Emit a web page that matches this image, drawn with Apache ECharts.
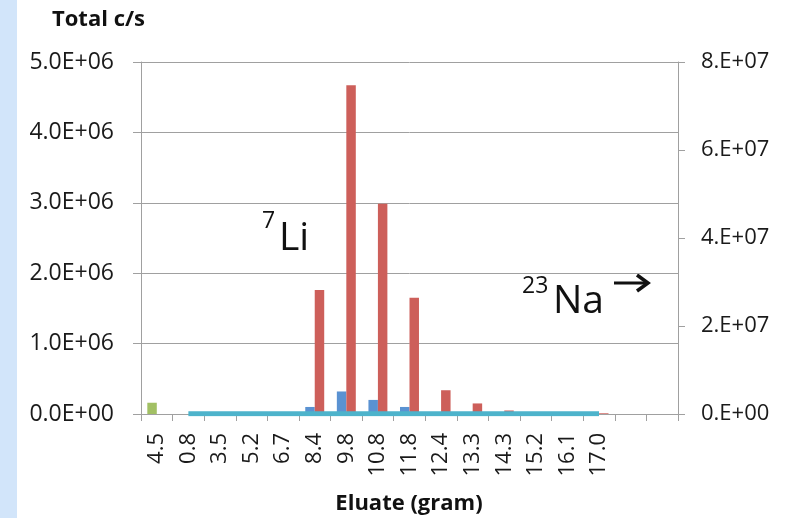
<!DOCTYPE html>
<html>
<head>
<meta charset="utf-8">
<script src="https://cdn.jsdelivr.net/npm/echarts@6/dist/echarts.min.js"></script>
<style>
  html, body { margin: 0; padding: 0; background: #fff; }
  #chart { width: 785px; height: 518px; }
</style>
</head>
<body>
<div id="chart"></div>
<script>
// eluate fractions (gram), two empty slots at the end like the original sheet
const categories = ['4.5', '0.8', '3.5', '5.2', '6.7', '8.4', '9.8', '10.8', '11.8', '12.4', '13.3', '14.3', '15.2', '16.1', '17.0', '', '']

// left axis (Total c/s)
const greenVals = [160000, null, null, null, null, null, null, null, null, null, null, null, null, null, null, null, null]
const blueVals = [null, 0, 0, 0, 5000, 100000, 320000, 200000, 100000, 0, 0, 0, 0, 0, 0, null, null]
// right axis (23Na)
const redVals = [null, 0, 0, 0, 160000, 28200000, 74700000, 47800000, 26400000, 5400000, 2400000, 800000, 0, 0, 160000, null, null]
const cyanVals = [null, 60000, 50000, 50000, 60000, 60000, 50000, 50000, 50000, 60000, 50000, 50000, 60000, 50000, 50000, null, null]

const leftTicks = { min: 0, max: 5000000, interval: 1000000 }
const rightTicks = { min: 0, max: 80000000, interval: 20000000 }

const FONT = 'Open Sans'
const AXIS_GREY = '#a0a0a0'

function expParts(v) {
  const e = Math.floor(Math.log10(v) + 1e-9)
  return { m: v / Math.pow(10, e), e: String(e).padStart(2, '0') }
}
function fmtLeft(v) {
  if (v === 0) return '0.0E+00'
  const p = expParts(v)
  return p.m.toFixed(1) + 'E+' + p.e
}
function fmtRight(v) {
  if (v === 0) return '0.E+00'
  const p = expParts(v)
  return p.m.toFixed(0) + '.E+' + p.e
}

const chart = echarts.init(document.getElementById('chart'))

const barCommon = { type: 'bar', barGap: '0%', barCategoryGap: '40%' }

chart.setOption({
  animation: false,
  backgroundColor: '#fff',
  grid: { left: 141, right: 107, top: 62, bottom: 104 },
  xAxis: {
    type: 'category',
    data: categories,
    axisLine: { lineStyle: { color: AXIS_GREY, width: 1 } },
    axisTick: { show: true, interval: 0, length: 7, lineStyle: { color: AXIS_GREY } },
    axisLabel: { interval: 0, rotate: 90, margin: 19, fontSize: 22, color: '#1a1a1a', fontFamily: FONT },
  },
  yAxis: [
    {
      type: 'value',
      ...leftTicks,
      axisLine: { show: true, lineStyle: { color: AXIS_GREY } },
      axisTick: { show: true, length: 8, lineStyle: { color: AXIS_GREY } },
      axisLabel: { formatter: fmtLeft, margin: 27, fontSize: 23, color: '#1a1a1a', fontFamily: FONT },
      splitLine: { lineStyle: { color: AXIS_GREY } },
    },
    {
      type: 'value',
      position: 'right',
      ...rightTicks,
      axisLine: { show: true, lineStyle: { color: AXIS_GREY } },
      axisTick: { show: true, length: 7, lineStyle: { color: AXIS_GREY } },
      axisLabel: { formatter: fmtRight, margin: 23, fontSize: 22, color: '#1a1a1a', fontFamily: FONT },
      splitLine: { show: false },
    },
  ],
  series: [
    { ...barCommon, name: 'g', stack: 'li', yAxisIndex: 0, data: greenVals, itemStyle: { color: '#a2c064' } },
    { ...barCommon, name: '7Li', stack: 'li', yAxisIndex: 0, data: blueVals, itemStyle: { color: '#5a92d2' } },
    { ...barCommon, name: '23Na', yAxisIndex: 1, data: redVals, itemStyle: { color: '#cd5f5a' } },
    {
      type: 'line',
      name: 'c',
      yAxisIndex: 1,
      data: cyanVals,
      showSymbol: false,
      z: 5,
      lineStyle: { color: '#4db3cb', width: 5 },
    },
  ],
  graphic: [
    { type: 'rect', left: 0, top: 0, shape: { width: 17, height: 518 }, style: { fill: '#d2e5fa' } },
    { type: 'text', left: 52, top: 9, style: { text: 'Total c/s', font: 'bold 22px "Open Sans"', fill: '#111' } },
    { type: 'text', x: 409, y: 504, style: { text: 'Eluate (gram)', font: 'bold 22px "Open Sans"', fill: '#111', align: 'center', verticalAlign: 'middle' } },
    { type: 'text', x: 262, y: 221, style: { text: '7', font: '23px "Open Sans"', fill: '#111', verticalAlign: 'middle' } },
    { type: 'text', x: 279, y: 239, style: { text: 'Li', font: '39px "Open Sans"', fill: '#111', verticalAlign: 'middle' } },
    { type: 'text', x: 522, y: 286, style: { text: '23', font: '23px "Open Sans"', fill: '#111', verticalAlign: 'middle' } },
    { type: 'text', x: 553, y: 302, style: { text: 'Na', font: '39px "Open Sans"', fill: '#111', verticalAlign: 'middle' } },
    { type: 'line', shape: { x1: 614, y1: 283, x2: 647, y2: 283 }, style: { stroke: '#111', lineWidth: 3 } },
    { type: 'polyline', shape: { points: [[637, 275], [648, 283], [637, 291]] }, style: { stroke: '#111', lineWidth: 3.5, fill: null } },
  ],
})
</script>
</body>
</html>
